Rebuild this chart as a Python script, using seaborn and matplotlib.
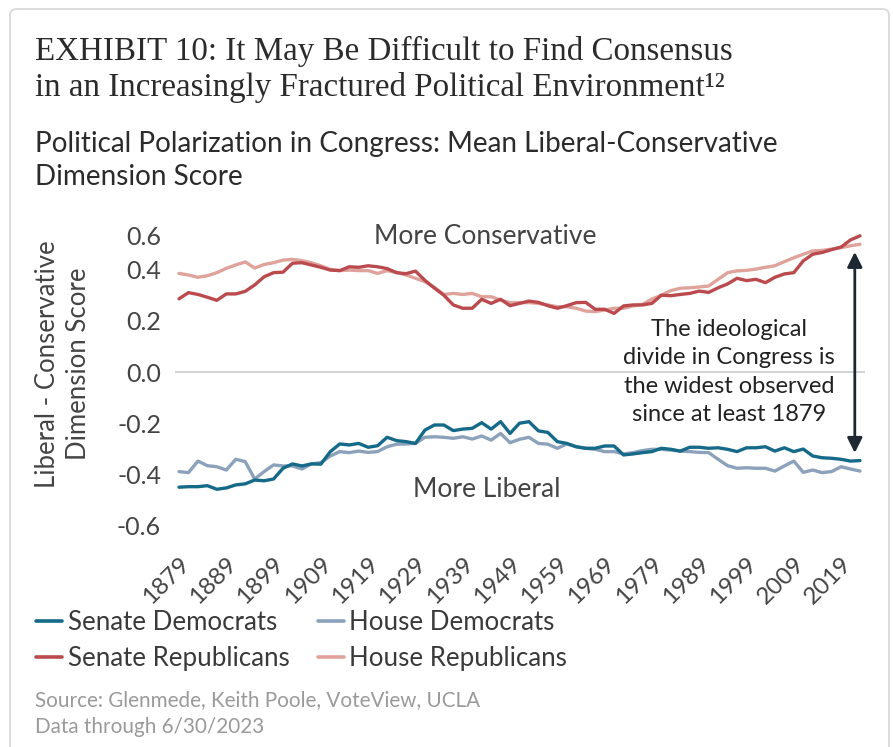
import numpy as np
import pandas as pd
import matplotlib
matplotlib.use("Agg")
import matplotlib.pyplot as plt
import seaborn as sns
from matplotlib.transforms import ScaledTranslation
from matplotlib.patches import FancyBboxPatch

# ---------------- data ----------------
years = list(range(1879, 2024, 2))

senate_dem = [-0.450, -0.448, -0.448, -0.444, -0.458, -0.453, -0.441, -0.437, -0.422, -0.425,
              -0.418, -0.376, -0.359, -0.367, -0.359, -0.360, -0.311, -0.281, -0.285, -0.279,
              -0.294, -0.288, -0.255, -0.268, -0.272, -0.279, -0.227, -0.207, -0.207, -0.229,
              -0.223, -0.220, -0.198, -0.223, -0.194, -0.240, -0.200, -0.194, -0.230, -0.236,
              -0.272, -0.279, -0.292, -0.298, -0.298, -0.289, -0.289, -0.324, -0.320, -0.315,
              -0.311, -0.298, -0.302, -0.309, -0.294, -0.294, -0.298, -0.296, -0.302, -0.311,
              -0.296, -0.296, -0.292, -0.309, -0.296, -0.311, -0.301, -0.328, -0.335, -0.337,
              -0.341, -0.348, -0.346]

house_dem = [-0.389, -0.393, -0.348, -0.366, -0.370, -0.383, -0.341, -0.350, -0.418, -0.389,
             -0.363, -0.367, -0.367, -0.379, -0.359, -0.354, -0.328, -0.311, -0.315, -0.309,
             -0.314, -0.311, -0.292, -0.282, -0.281, -0.279, -0.255, -0.253, -0.255, -0.259,
             -0.253, -0.262, -0.250, -0.266, -0.240, -0.276, -0.263, -0.255, -0.279, -0.282,
             -0.298, -0.281, -0.292, -0.298, -0.302, -0.311, -0.311, -0.320, -0.315, -0.307,
             -0.302, -0.302, -0.305, -0.309, -0.311, -0.314, -0.315, -0.341, -0.366, -0.376,
             -0.374, -0.376, -0.376, -0.387, -0.367, -0.348, -0.392, -0.383, -0.393, -0.389,
             -0.370, -0.379, -0.387]

senate_rep = [0.286, 0.310, 0.303, 0.292, 0.280, 0.305, 0.305, 0.315, 0.340, 0.372,
              0.388, 0.390, 0.425, 0.427, 0.418, 0.409, 0.398, 0.396, 0.411, 0.409,
              0.415, 0.411, 0.404, 0.388, 0.384, 0.394, 0.358, 0.328, 0.300, 0.262,
              0.249, 0.249, 0.284, 0.268, 0.284, 0.259, 0.268, 0.277, 0.272, 0.259,
              0.249, 0.259, 0.271, 0.272, 0.245, 0.245, 0.229, 0.258, 0.262, 0.262,
              0.268, 0.300, 0.298, 0.303, 0.307, 0.316, 0.311, 0.329, 0.344, 0.366,
              0.357, 0.362, 0.349, 0.370, 0.383, 0.388, 0.434, 0.460, 0.467, 0.478,
              0.488, 0.516, 0.532]

house_rep = [0.385, 0.379, 0.370, 0.376, 0.388, 0.405, 0.418, 0.430, 0.406, 0.420,
             0.427, 0.437, 0.440, 0.435, 0.427, 0.415, 0.401, 0.396, 0.398, 0.396,
             0.396, 0.385, 0.396, 0.389, 0.379, 0.366, 0.353, 0.330, 0.303, 0.307,
             0.303, 0.307, 0.294, 0.294, 0.281, 0.271, 0.271, 0.271, 0.268, 0.262,
             0.255, 0.255, 0.249, 0.238, 0.236, 0.242, 0.249, 0.249, 0.258, 0.264,
             0.285, 0.300, 0.318, 0.327, 0.329, 0.332, 0.336, 0.362, 0.388, 0.395,
             0.397, 0.402, 0.409, 0.415, 0.431, 0.446, 0.460, 0.473, 0.475, 0.480,
             0.486, 0.493, 0.499]

series_names = ["Senate Democrats", "House Democrats", "Senate Republicans", "House Republicans"]
series_colors = ["#146a88", "#8ca1ba", "#bb4a4e", "#dfa39c"]

ytick_values = [-0.6, -0.4, -0.2, 0.0, 0.2, 0.4, 0.6]
ytick_labels = ["-0.6", "-0.4", "-0.2", "0.0", "0.2", "0.4", "0.6"]
xtick_years = list(range(1879, 2020, 10))

df = pd.concat([
    pd.DataFrame({"year": years, "score": vals, "series": name})
    for name, vals in zip(series_names, [senate_dem, house_dem, senate_rep, house_rep])
], ignore_index=True)

# ---------------- style ----------------
sns.set_theme(style="white")
plt.rcParams["font.family"] = ["Lato", "DejaVu Sans"]
plt.rcParams["axes.unicode_minus"] = False

W, H = 893, 747
fig = plt.figure(figsize=(W / 100, H / 100), dpi=100)
fig.patch.set_facecolor("white")

def fx(px):
    return px / W

def fy(py):
    return 1 - py / H

# card border
fig.patches.append(FancyBboxPatch((fx(10), -0.05), fx(879), fy(9) + 0.05,
                                  boxstyle="round,pad=0,rounding_size=0.008",
                                  transform=fig.transFigure, fill=False,
                                  ec="#d9d9d9", lw=1.3))

ax_left, ax_right, ax_top, ax_bottom = 175, 865, 218.4, 525.6
ax = fig.add_axes([fx(ax_left), fy(ax_bottom), fx(ax_right - ax_left), (ax_bottom - ax_top) / H])
ax.set_facecolor("none")

palette = dict(zip(series_names, series_colors))
draw_order = ["House Democrats", "House Republicans", "Senate Democrats", "Senate Republicans"]
sns.lineplot(data=df, x="year", y="score", hue="series", hue_order=draw_order,
             palette=palette, linewidth=2.4, ax=ax, legend=True)

handles, labels = ax.get_legend_handles_labels()
ax.get_legend().remove()
hmap = dict(zip(labels, handles))

ax.axhline(0, color="#cccccc", lw=1.2, zorder=0)

ppx = 681 / 144.0  # pixels per year
ax.set_xlim(1879 - 4 / ppx, 2023 + 5 / ppx)
ax.set_ylim(-0.6, 0.6)
for s in ax.spines.values():
    s.set_visible(False)
ax.set_xlabel("")
ax.set_ylabel("")

TXT = "#444444"
ax.set_yticks(ytick_values, ytick_labels)
ax.tick_params(axis="y", length=0, pad=10, labelsize=18, labelcolor=TXT)
for lbl in ax.get_yticklabels():
    if lbl.get_text() == "0.6":
        lbl.set_transform(lbl.get_transform() + ScaledTranslation(0, -17 / 100, fig.dpi_scale_trans))

ax.set_xticks(xtick_years, [str(y) for y in xtick_years])
ax.tick_params(axis="x", length=0, pad=25, labelsize=17.5, labelcolor=TXT)
for lbl in ax.get_xticklabels():
    lbl.set_rotation(45)
    lbl.set_rotation_mode("anchor")
    lbl.set_ha("right")
    lbl.set_va("center")
    lbl.set_transform(lbl.get_transform() + ScaledTranslation(7 / 100, 0, fig.dpi_scale_trans))

# annotations
ax.text(1943.7, 0.53, "More Conservative", ha="center", va="center", fontsize=19,
        color=TXT)
ax.text(1944.1, -0.46, "More Liberal", ha="center", va="center", fontsize=19,
        color=TXT)
ax.text(1995.3, 0.0, "The ideological\ndivide in Congress is\nthe widest observed\nsince at least 1879",
        ha="center", va="center", fontsize=17, color="#222222", linespacing=1.45,
        multialignment="center")
ax.annotate("", xy=(2021.9, 0.469), xytext=(2021.9, -0.316),
            arrowprops=dict(arrowstyle="<|-|>,head_length=0.5,head_width=0.25",
                            color="#1e2833", lw=2, mutation_scale=18,
                            shrinkA=0, shrinkB=0))

# y label
fig.text(fx(63), fy(364), "Liberal - Conservative\nDimension Score", rotation=90,
         ha="center", va="center", fontsize=18.5, color=TXT, linespacing=1.3,
         multialignment="center")

# titles
t1 = fig.text(fx(35), fy(60), "EXHIBIT 10: It May Be Difficult to Find Consensus",
              family=["Liberation Serif", "DejaVu Serif"], fontsize=20, color="#2b2b2b",
              va="baseline", ha="left")
t2 = fig.text(fx(35), fy(96), "in an Increasingly Fractured Political Environment\u00b9\u00b2",
              family=["Liberation Serif", "DejaVu Serif"], fontsize=20, color="#2b2b2b",
              va="baseline", ha="left")
s1 = fig.text(fx(35), fy(152), "Political Polarization in Congress: Mean Liberal-Conservative",
              fontsize=18, color="#2b2b2b", va="baseline", ha="left")
s2 = fig.text(fx(35), fy(185), "Dimension Score",
              fontsize=18, color="#2b2b2b", va="baseline", ha="left")

renderer = fig.canvas.get_renderer()
def fit(ref, others, target):
    w = ref.get_window_extent(renderer).width
    size = ref.get_fontsize() * target / w
    for t in [ref] + others:
        t.set_fontsize(size)
fit(t1, [t2], 698)
fit(s1, [s2], 741)

# legend
order = ["Senate Democrats", "Senate Republicans", "House Democrats", "House Republicans"]
leg = fig.legend([hmap[n] for n in order], order, loc="upper left",
                 bbox_to_anchor=(fx(36), fy(610)), ncol=2, frameon=False,
                 fontsize=18.6, handlelength=1.0, handletextpad=0.22, columnspacing=1.1,
                 labelspacing=0.44, borderaxespad=0, borderpad=0)
for txt in leg.get_texts():
    txt.set_color("#3a3a3a")
for line in leg.get_lines():
    line.set_linewidth(2.6)

# source
fig.text(fx(35), fy(706), "Source: Glenmede, Keith Poole, VoteView, UCLA", fontsize=14.9,
         color="#9a9a9a", va="baseline")
fig.text(fx(35), fy(733), "Data through 6/30/2023", fontsize=14.9,
         color="#9a9a9a", va="baseline")

fig.savefig("out.png", dpi=100, facecolor="white")
